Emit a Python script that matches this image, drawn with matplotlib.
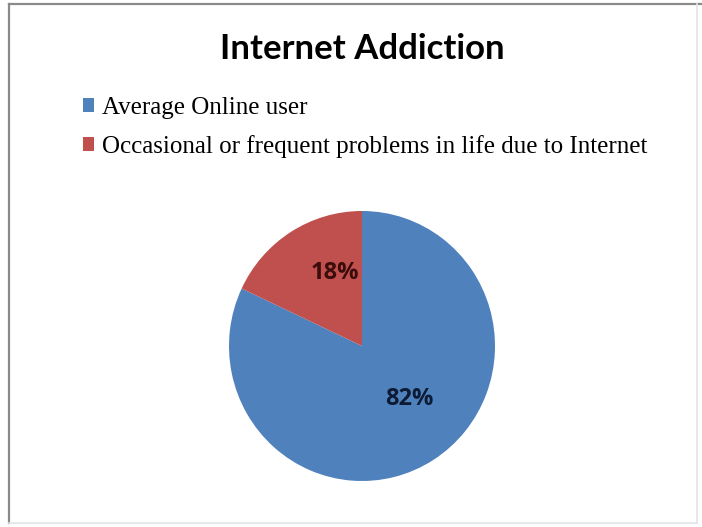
import numpy as np
import matplotlib.pyplot as plt
from matplotlib.lines import Line2D

# data
labels = ['Average Online user', 'Occasional or frequent problems in life due to Internet']
values = [82, 18]
colors = ['#4F81BD', '#C0504D']
pct_colors = ['#0d1a33', '#3a0c0b']

W, H = 702, 527
fig = plt.figure(figsize=(W / 100, H / 100), dpi=100)
fig.patch.set_facecolor('white')

# chart frame (left/top darker, right/bottom light)
def px(x, y):
    return x / W, 1 - y / H

x0, y0 = px(8.5, 4)
x1, y1 = px(697, 523)
fig.add_artist(Line2D([x0, x0], [y0, y1], color='#8a8a8a', lw=1.6))
fig.add_artist(Line2D([x0, 1], [y0, y0], color='#8a8a8a', lw=1.6))
fig.add_artist(Line2D([x1, x1], [y0, y1], color='#e4e4e4', lw=1.2))
fig.add_artist(Line2D([x0, x1], [y1, y1], color='#e4e4e4', lw=1.2))

# title
tx, ty = px(362, 59)
fig.text(tx, ty, 'Internet Addiction', ha='center', va='baseline',
         fontsize=25, fontweight='bold', family='Lato', color='black')

# pie
ax = fig.add_axes([229 / W, (H - 481) / H, 266 / W, 270 / H])
wedges, texts, autotexts = ax.pie(values, colors=colors, startangle=90,
                                  counterclock=False, autopct='%1.0f%%',
                                  pctdistance=0.56, radius=1,
                                  wedgeprops=dict(linewidth=0))
# label placement (polar offsets inside each wedge)
label_pos = [(-48, 0.53), (111, 0.58)]
for t, c, (ang, r) in zip(autotexts, pct_colors, label_pos):
    t.set_color(c)
    t.set_fontsize(17)
    t.set_fontweight('bold')
    t.set_family('Open Sans')
    t.set_position((r * np.cos(np.radians(ang)), r * np.sin(np.radians(ang))))
ax.set_xlim(-1, 1)
ax.set_ylim(-1, 1)
ax.set_aspect('auto')
ax.axis('off')

# legend
lx, ly = px(83, 97)
fig.legend(wedges, labels, loc='upper left', bbox_to_anchor=(lx, ly),
           frameon=False, borderpad=0, borderaxespad=0,
           handlelength=0.45, handleheight=0.45, handletextpad=0.3,
           labelspacing=0.64,
           prop={'family': 'Liberation Serif', 'size': 18})

fig.savefig('out.png', dpi=100, facecolor='white')
